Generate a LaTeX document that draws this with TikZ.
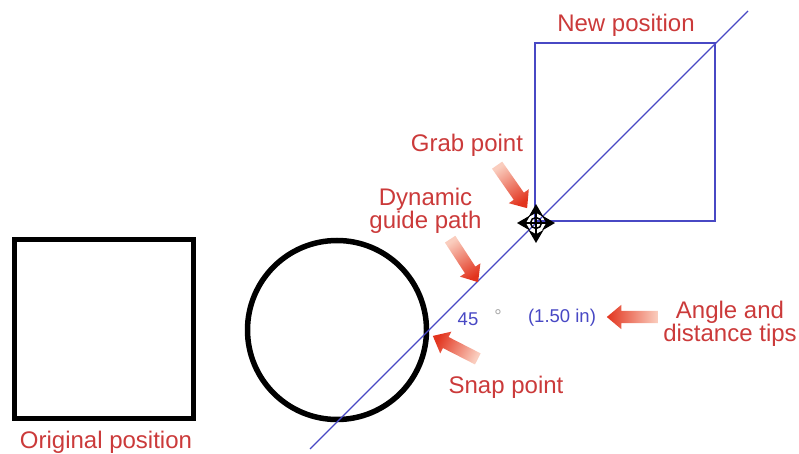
\documentclass[tikz,border=0pt]{standalone}
\usepackage{fontspec}
\setmainfont{Liberation Sans}
\usetikzlibrary{calc, arrows.meta, shapes.arrows}
\definecolor{labelred}{RGB}{203,58,58}
\definecolor{tipred}{RGB}{226,52,30}
\definecolor{tailred}{RGB}{250,205,190}
\definecolor{guideblue}{RGB}{72,72,196}
\tikzset{
  label text/.style={text=labelred, font=\fontsize{24}{23.5}\selectfont, align=center, inner sep=0pt},
  tip text/.style={text=guideblue, font=\fontsize{18.5}{20}\selectfont, inner sep=0pt},
  thick shape/.style={draw=black, line width=5.5pt},
  guide shape/.style={draw=guideblue, line width=1.6pt},
  fatarrow/.style={single arrow, inner xsep=0pt, inner ysep=6pt, single arrow head extend=6pt, single arrow tip angle=80,
    anchor=tail, left color=tailred, right color=tipred, draw=none},
  cursor arrow/.style={{Stealth[length=13pt,width=15pt]}-{Stealth[length=13pt,width=15pt]}, draw=black, line width=2.5pt}
}
\newcommand{\fatlink}[2]{
  \path let \p1=($(#2)-(#1)$), \n1={atan2(\y1,\x1)}, \n2={veclen(\x1,\y1)} in
    node (#1 link) [fatarrow, shading angle=\n1+90, rotate=\n1, minimum height=\n2] at (#1) {};
}
\begin{document}
\begin{tikzpicture}[x=1pt, y=-1pt]
  \useasboundingbox (0,0) rectangle (799,454);
  \node (oldsquare) [thick shape, minimum size=179pt, inner sep=0pt] at (104,329) {};
  \node (oldcircle) [thick shape, circle, minimum size=179pt, inner sep=0pt] at (337,330) {};
  \node (newsquare) [guide shape, minimum width=180pt, minimum height=178pt, inner sep=0pt] at (625,132) {};
  \coordinate (guidelow) at (310,449);
  \coordinate (guidehigh) at (748,11);
  \draw[guide shape, line width=1.2pt] (guidelow) -- (guidehigh);

  \coordinate (cursorwest) at (517,223);
  \coordinate (cursoreast) at (555,223);
  \coordinate (cursornorth) at (536,204);
  \coordinate (cursorsouth) at (536,243);
  \draw[cursor arrow] (cursorwest) -- (cursoreast);
  \draw[cursor arrow] (cursornorth) -- (cursorsouth);
  \node (cursorring) [draw=black, line width=1.5pt, circle, minimum size=11pt, inner sep=0pt] at (536,223) {};

  \node (original) [label text] at (106,442) {Original position};
  \node (newpos) [label text] at (626,25) {New position};
  \node (grab) [label text] at (467,145) {Grab point};
  \node (dynamic) [label text] at (425.5,211) {Dynamic\\guide path};
  \node (snap) [label text] at (506,387) {Snap point};
  \node (angledist) [label text] at (730,324) {Angle and\\distance tips};
  \node (anglenum) [tip text] at (468,319) {45};
  \node (degree) [tip text, text=black!35] at (498,316) {°};
  \node (distnum) [tip text] at (562,318) {(1.50 in)};

  \coordinate (grabtail) at (497,165);
  \coordinate (grabtip) at (527,208);
  \coordinate (guidetail) at (450,239);
  \coordinate (guidetip) at (478,282);
  \coordinate (snaptail) at (478,359);
  \coordinate (snaptip) at (433,336);
  \coordinate (tipstail) at (658,317);
  \coordinate (tipstip) at (607,317);
  \fatlink{grabtail}{grabtip}
  \fatlink{guidetail}{guidetip}
  \fatlink{snaptail}{snaptip}
  \fatlink{tipstail}{tipstip}
\end{tikzpicture}
\end{document}
